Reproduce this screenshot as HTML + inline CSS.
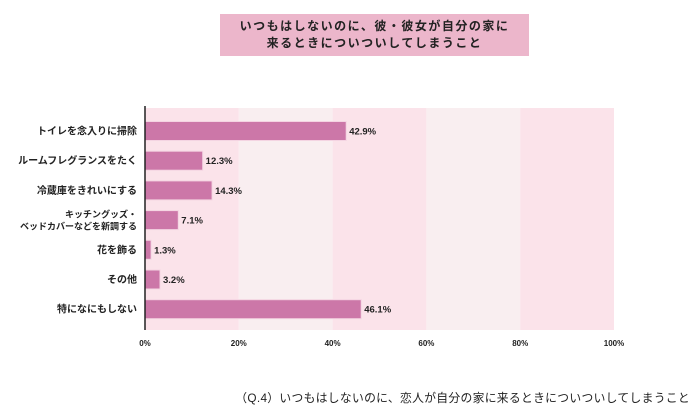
<!DOCTYPE html>
<html><head><meta charset="utf-8"><style>
body{margin:0;width:700px;height:420px;background:#fff;font-family:"Liberation Sans","Noto Sans CJK JP",sans-serif;overflow:hidden;position:relative}
.title{position:absolute;left:220px;top:14px;width:309px;height:42px;background:#ecb6cb;color:#222;font-weight:bold;font-size:12px;line-height:17px;text-align:center;padding-top:4px;box-sizing:border-box;letter-spacing:1.5px}
.foot{position:absolute;right:10px;top:389px;font-size:11.8px;color:#222;letter-spacing:0.3px;white-space:nowrap}
</style></head><body>
<div class="title">いつもはしないのに、彼・彼女が自分の家に<br>来るときについついしてしまうこと</div>
<svg id="c" width="700" height="420" style="position:absolute;left:0;top:0"></svg>
<div class="foot">（Q.4）いつもはしないのに、恋人が自分の家に来るときについついしてしまうこと</div>
<script>
const categories=[["トイレを念入りに掃除"],["ルームフレグランスをたく"],["冷蔵庫をきれいにする"],["キッチングッズ・","ベッドカバーなどを新調する"],["花を飾る"],["その他"],["特になにもしない"]];
const values=[42.9,12.3,14.3,7.1,1.3,3.2,46.1];
const ticks=[0,20,40,60,80,100];
const svg=document.getElementById('c');const NS='http://www.w3.org/2000/svg';
const x0=145,x1=614,yTop=108,yBot=330;
const xs=v=>x0+(v/100)*(x1-x0);
const yc=i=>131+i*29.7;
function mk(t,a){const e=document.createElementNS(NS,t);for(const k in a)e.setAttribute(k,a[k]);svg.appendChild(e);return e;}
for(let i=0;i<ticks.length-1;i++){
 const r=mk('rect',{x:xs(ticks[i]),y:yTop,width:xs(ticks[i+1])-xs(ticks[i]),height:yBot-yTop,fill:i%2?'#f9eef0':'#fbe3ea'});
 
 
}
ticks.forEach(t=>{const e=mk('text',{x:xs(t),y:346,'font-size':8,'font-weight':'bold','text-anchor':'middle',fill:'#222'});e.textContent=t+'%';
 
 });
values.forEach((v,i)=>{
 const b=mk('rect',{x:x0,y:yc(i)-9.5,width:xs(v)-x0,height:19,fill:'#cc77a8',stroke:'#f4d4e2','stroke-width':1});
 
 
 const t=mk('text',{x:xs(v)+3,y:yc(i)+3.5,'font-size':9.5,'font-weight':'bold',fill:'#222'});t.textContent=v.toFixed(1)+'%';
 
 
 const lines=categories[i];
 lines.forEach((s,j)=>{const l=mk('text',{x:137,y:yc(i)+3.5+(j-(lines.length-1)/2)*12,'font-size':lines.length>1?9:10,'font-weight':'bold','text-anchor':'end',fill:'#222'});l.textContent=s;
 
 });
});
const ax=mk('line',{x1:x0,x2:x0,y1:yTop-2,y2:yBot,stroke:'#222','stroke-width':1.5});


</script>
</body></html>
